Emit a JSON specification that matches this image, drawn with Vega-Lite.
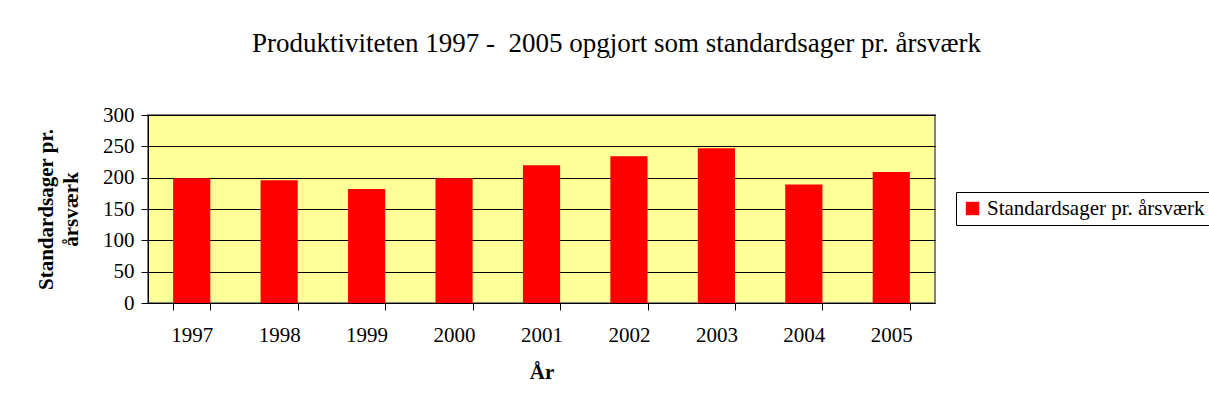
{
  "$schema": "https://vega.github.io/schema/vega-lite/v6.json",
  "autosize": "none",
  "width": 787,
  "height": 188,
  "padding": {"left": 148, "top": 115, "right": 274, "bottom": 102},
  "background": "white",
  "title": {
    "text": "Produktiviteten 1997 -\u00a0 2005 opgjort som standardsager pr. årsværk",
    "font": "Liberation Serif",
    "fontSize": 27,
    "fontWeight": "normal",
    "color": "black",
    "anchor": "middle",
    "dx": 75,
    "offset": 46
  },
  "data": {
    "values": [
      {"year": "1997", "value": 199},
      {"year": "1998", "value": 196},
      {"year": "1999", "value": 182},
      {"year": "2000", "value": 199},
      {"year": "2001", "value": 220},
      {"year": "2002", "value": 234},
      {"year": "2003", "value": 247},
      {"year": "2004", "value": 189},
      {"year": "2005", "value": 209}
    ]
  },
  "mark": {"type": "bar", "stroke": null},
  "encoding": {
    "x": {
      "field": "year",
      "type": "ordinal",
      "scale": {"paddingInner": 0.575, "paddingOuter": 0.2875},
      "axis": {
        "title": "År",
        "titleFont": "Liberation Serif",
        "titleFontSize": 21,
        "titleFontWeight": "bold",
        "titleColor": "black",
        "titlePadding": 16,
        "labelFont": "Liberation Serif",
        "labelFontSize": 21,
        "labelColor": "black",
        "labelAngle": 0,
        "labelPadding": 14,
        "tickBand": "extent",
        "tickSize": 7,
        "tickColor": "black",
        "domainColor": "black",
        "grid": false
      }
    },
    "y": {
      "field": "value",
      "type": "quantitative",
      "scale": {"domain": [0, 300]},
      "axis": {
        "values": [0, 50, 100, 150, 200, 250, 300],
        "title": ["Standardsager pr.", "årsværk"],
        "titleFont": "Liberation Serif",
        "titleFontSize": 21,
        "titleFontWeight": "bold",
        "titleColor": "black",
        "titleLineHeight": 25,
        "titlePadding": 21,
        "labelFont": "Liberation Serif",
        "labelFontSize": 21,
        "labelColor": "black",
        "labelPadding": 7,
        "tickSize": 7,
        "tickColor": "black",
        "domainColor": "black",
        "grid": true,
        "gridColor": "black",
        "gridOpacity": 1,
        "gridWidth": 1
      }
    },
    "color": {
      "datum": "Standardsager pr. årsværk",
      "scale": {"range": ["#ff0000"]},
      "legend": {
        "title": null,
        "orient": "none",
        "legendX": 808,
        "legendY": 77,
        "symbolType": "square",
        "symbolSize": 180,
        "symbolStrokeWidth": 0,
        "labelFont": "Liberation Serif",
        "labelFontSize": 21,
        "labelColor": "black",
        "labelLimit": 400,
        "labelOffset": 4,
        "padding": 6,
        "strokeColor": "black",
        "fillColor": "white"
      }
    }
  },
  "config": {
    "view": {"fill": "#ffff99", "stroke": "#808080", "strokeWidth": 2}
  }
}
